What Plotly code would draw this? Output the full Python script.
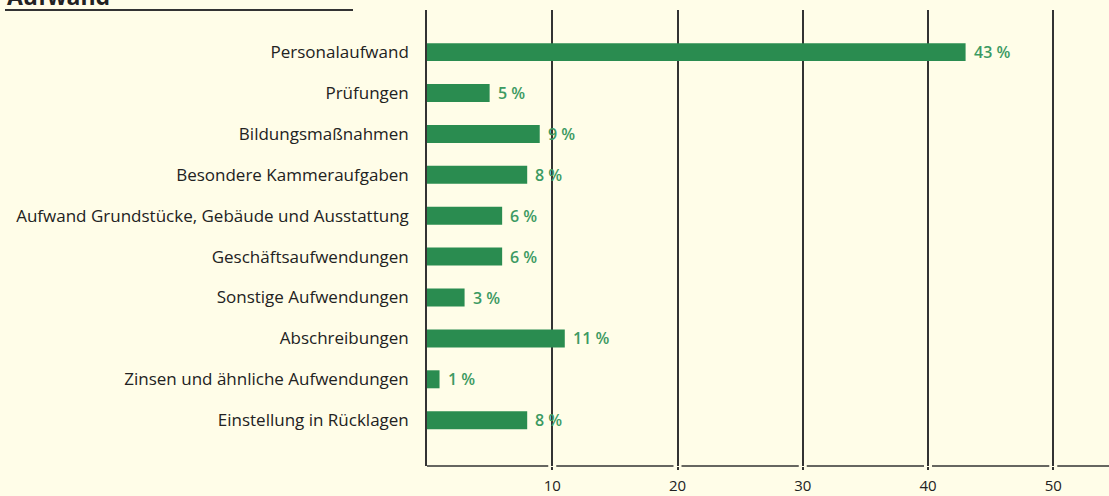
import plotly.graph_objects as go

categories = [
    "Personalaufwand",
    "Prüfungen",
    "Bildungsmaßnahmen",
    "Besondere Kammeraufgaben",
    "Aufwand Grundstücke, Gebäude und Ausstattung",
    "Geschäftsaufwendungen",
    "Sonstige Aufwendungen",
    "Abschreibungen",
    "Zinsen und ähnliche Aufwendungen",
    "Einstellung in Rücklagen",
]
values = [43, 5, 9, 8, 6, 6, 3, 11, 1, 8]
tick_values = [10, 20, 30, 40, 50]
tick_labels = ["10", "20", "30", "40", "50"]
title_text = "Aufwand"

BG = "#FFFDE8"
BAR = "#2A8C50"
LABEL_GREEN = "#3C9A62"
LINE = "#333333"
FONT = "Open Sans"
XMAX = 54.45
PW = 1109 - 427  # plot width in px

fig = go.Figure()
fig.add_trace(go.Bar(
    x=values, y=categories, orientation="h",
    marker=dict(color=BAR, line=dict(width=0)),
    width=0.44, hoverinfo="skip",
))

for c, v in zip(categories, values):
    fig.add_annotation(x=v, y=c, xref="x", yref="y", text=f"{v} %",
                       showarrow=False, xanchor="left", xshift=6,
                       font=dict(family=FONT, size=16, color=LABEL_GREEN, weight=600))

# baseline segments with small gaps at gridlines
edges = [0] + tick_values + [XMAX]
for i in range(len(edges) - 1):
    x0 = edges[i] + (0 if i == 0 else 0.32)
    x1 = edges[i + 1] - (0.32 if i + 1 < len(edges) - 1 else 0)
    fig.add_shape(type="line", xref="x", yref="paper", x0=x0, x1=x1, y0=0, y1=0,
                  line=dict(color=LINE, width=1.6))

# title (mostly cut off at the top edge, as in the source) and its underline
fig.add_annotation(x=-422 / PW, y=1.0, xref="paper", yref="paper",
                   text=f"<b>{title_text}</b>",
                   showarrow=False, xanchor="left", yanchor="bottom", yshift=-4,
                   font=dict(family=FONT, size=23, color="#222222"))
fig.add_shape(type="line", xref="paper", yref="paper",
              x0=-422 / PW, x1=-74 / PW, y0=1.0, y1=1.0,
              line=dict(color=LINE, width=2))

fig.update_layout(
    width=1109, height=496,
    margin=dict(l=427, r=0, t=10, b=30),
    paper_bgcolor=BG, plot_bgcolor=BG,
    showlegend=False,
    font=dict(family=FONT, size=17, color="#222222"),
    xaxis=dict(range=[0, XMAX], tickvals=tick_values, ticktext=tick_labels,
               showgrid=True, gridcolor=LINE, gridwidth=1.5,
               zeroline=False, showline=False,
               ticks="outside", ticklen=3, tickcolor=LINE, tickwidth=1.5,
               ticklabelstandoff=3,
               tickfont=dict(family=FONT, size=15, color="#222222"),
               fixedrange=True),
    yaxis=dict(categoryorder="array", categoryarray=categories,
               range=[10.12, -1.03], showgrid=False, zeroline=False,
               showline=True, linecolor=LINE, linewidth=1.6,
               ticks="", ticklabelstandoff=13,
               tickfont=dict(family=FONT, size=17, color="#222222"),
               fixedrange=True),
)

fig.write_html("out.html", config={"displayModeBar": False},
               post_script="document.body.style.margin='0';document.body.style.overflow='hidden';")
